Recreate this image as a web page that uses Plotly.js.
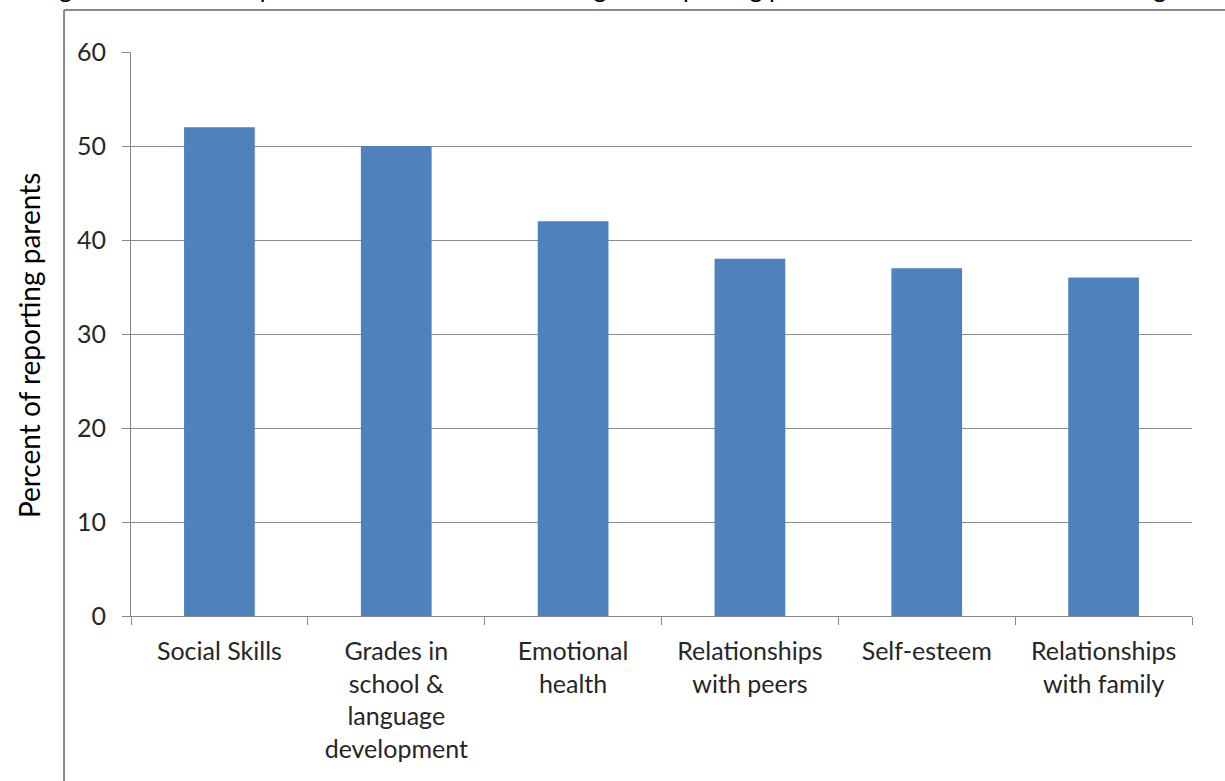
<!DOCTYPE html>
<html>
<head>
<meta charset="utf-8">
<script src="https://cdn.plot.ly/plotly-3.0.1.min.js"></script>
<style>html,body{margin:0;padding:0;background:#fff;}#chart{width:1225px;height:781px;}</style>
</head>
<body>
<div id="chart"></div>
<script>
const categories = ["Social Skills", "Grades in<br>school &amp;<br>language<br>development", "Emotional<br>health", "Relationships<br>with peers", "Self-esteem", "Relationships<br>with family"];
const values = [52, 50, 42, 38, 37, 36];
const yTickValues = [0, 10, 20, 30, 40, 50, 60];
const titleText = "Figure 2. Percent of parents of children with hearing loss reporting problems due to their child's hearing loss";
const yTitle = "Percent of reporting parents";

const FONT = "Lato, 'Open Sans', sans-serif";
const trace = {
  type: "bar",
  x: categories,
  y: values,
  marker: {color: "#4f81bd"},
  hoverinfo: "x+y"
};
const layout = {
  width: 1225, height: 781,
  margin: {l: 131, r: 33, t: 52, b: 165},
  paper_bgcolor: "#fff", plot_bgcolor: "#fff",
  bargap: 0.6,
  showlegend: false,
  font: {family: FONT, size: 25, color: "#262626"},
  xaxis: {
    type: "category",
    showline: true, linecolor: "#888", linewidth: 1,
    ticks: "outside", tickson: "boundaries", ticklen: 8, tickcolor: "#888",
    tickfont: {family: FONT, size: 25, color: "#262626"},
    ticklabelstandoff: 13,
    showgrid: false, zeroline: false, fixedrange: true
  },
  yaxis: {
    range: [0, 60],
    tickvals: yTickValues,
    showline: true, linecolor: "#888", linewidth: 1,
    ticks: "outside", ticklen: 8, tickcolor: "#888",
    showgrid: true, gridcolor: "#8c8c8c", gridwidth: 1,
    zeroline: false,
    tickfont: {family: FONT, size: 25, color: "#262626"},
    ticklabelstandoff: 11,
    fixedrange: true
  },
  shapes: [
    {type: "line", xref: "paper", yref: "paper", x0: -0.0631, x1: -0.0631, y0: 1.0745, y1: -0.4, line: {color: "#888", width: 2}},
    {type: "line", xref: "paper", yref: "paper", x0: -0.0631, x1: 1.1, y0: 1.0745, y1: 1.0745, line: {color: "#888", width: 2}}
  ],
  annotations: [
    {text: titleText, xref: "paper", yref: "paper", x: -0.088, y: 1.0855, xanchor: "left", yanchor: "bottom", showarrow: false, borderpad: 0, font: {family: FONT, size: 25, color: "#000"}},
    {text: yTitle, xref: "paper", yref: "paper", x: -0.0963, y: 0.480, xanchor: "center", yanchor: "middle", textangle: -90, showarrow: false, borderpad: 0, font: {family: FONT, size: 28, color: "#000"}}
  ]
};
Plotly.newPlot("chart", [trace], layout, {displayModeBar: false, staticPlot: true});
</script>
</body>
</html>
